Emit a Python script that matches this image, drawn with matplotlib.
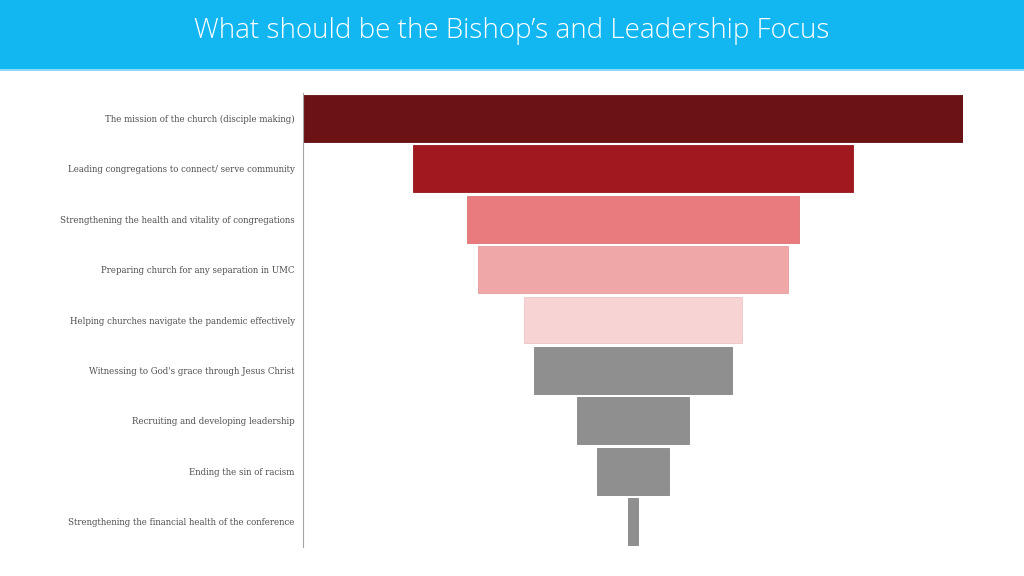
import matplotlib
matplotlib.use('Agg')
import matplotlib.pyplot as plt
from matplotlib.patches import Rectangle

## Funnel data (relative widths)
categories = [
    'The mission of the church (disciple making)',
    'Leading congregations to connect/ serve community',
    'Strengthening the health and vitality of congregations',
    'Preparing church for any separation in UMC',
    'Helping churches navigate the pandemic effectively',
    "Witnessing to God's grace through Jesus Christ",
    'Recruiting and developing leadership',
    'Ending the sin of racism',
    'Strengthening the financial health of the conference',
]
values = [100, 66.8, 50.4, 47.0, 32.9, 29.9, 17.1, 10.8, 1.4]
colors = ['#6B1215', '#A0191E', '#E97B7E', '#F0A7A8', '#F8D3D4',
          '#8F8F8F', '#8F8F8F', '#8F8F8F', '#8F8F8F']
edges = ['#620F12', '#94171B', '#DC7477', '#E49C9D', '#EDC5C6',
         '#868686', '#868686', '#868686', '#868686']

title = 'What should be the Bishop\u2019s and Leadership Focus'

fig = plt.figure(figsize=(10.24, 5.76), dpi=100)

## header band
fig.patches.append(Rectangle((0, 1 - 69/576), 1, 69/576, transform=fig.transFigure,
                             facecolor='#12B7F2', edgecolor='none', zorder=0))
fig.patches.append(Rectangle((0, 1 - 71/576), 1, 2/576, transform=fig.transFigure,
                             facecolor='#8ED9F7', edgecolor='none', zorder=0))
fig.text(0.5, 1 - 31/576, title, ha='center', va='center', color='white',
         fontsize=20, family='Open Sans', fontweight='light')

ax = fig.add_axes([303/1024, 1 - 547/576, 660/1024, 454/576])
vmax = max(values)
y = list(range(len(categories)))
lefts = [-v/2 for v in values]
ax.barh(y, values, left=lefts, height=0.93, color=colors, edgecolor=edges, linewidth=0.6)
ax.set_xlim(-vmax/2, vmax/2)
ax.set_ylim(len(categories) - 0.5, -0.5)
ax.set_yticks(y)
ax.set_yticklabels(categories, family='DejaVu Serif', fontsize=6.2, color='#4F4F4F')
ax.tick_params(axis='y', length=0, pad=6)
ax.set_xticks([])
for s in ['top', 'right', 'bottom']:
    ax.spines[s].set_visible(False)
ax.spines['left'].set_color('#A6A6A6')
ax.spines['left'].set_linewidth(0.8)

fig.savefig('out.png', dpi=100)
